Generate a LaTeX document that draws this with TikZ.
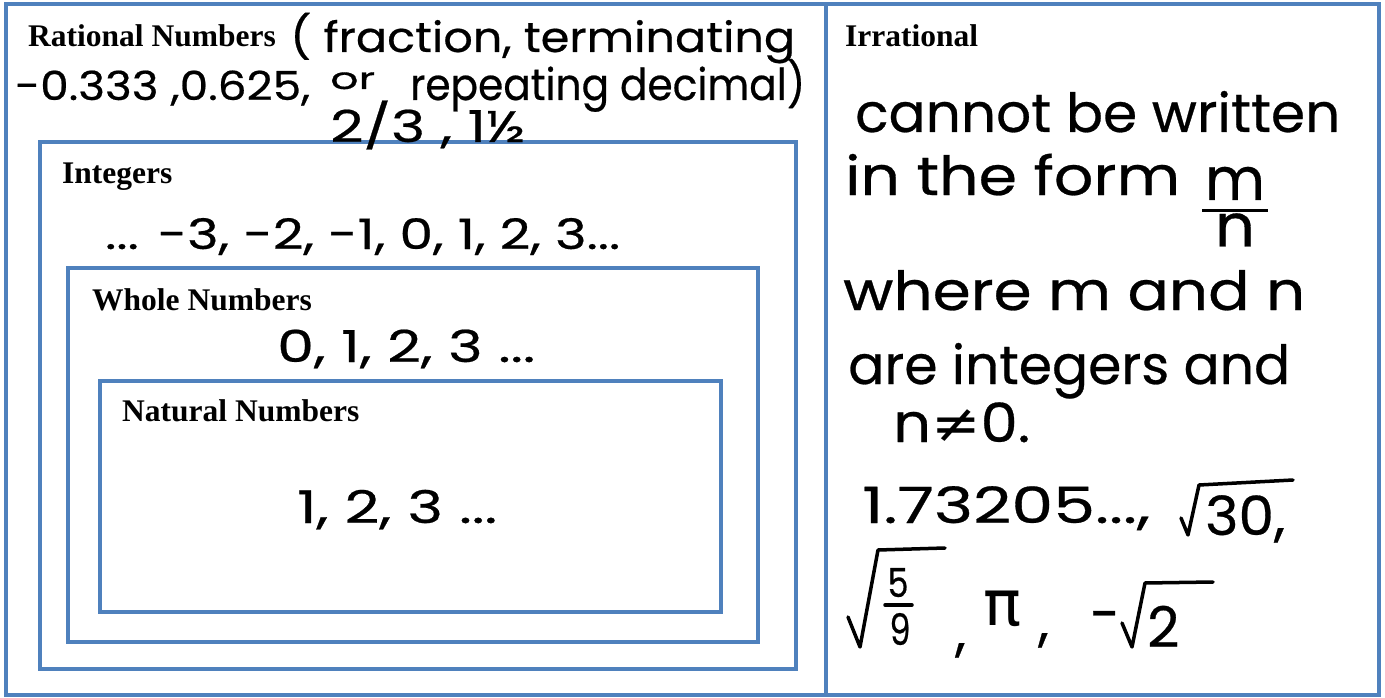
\documentclass[tikz,border=0pt]{standalone}
\usepackage{fontspec}
\setmainfont{Liberation Serif}
\newfontfamily\hand[FakeBold=0.5]{Poppins}
\newfontfamily\dvs{DejaVu Sans}
\definecolor{boxblue}{HTML}{4F81BD}
\newcommand{\hw}[3][1]{\resizebox{#2}{#1\height}{#3}}
\newcommand{\hs}[1]{\hand\fontsize{#1}{#1}\selectfont}
\begin{document}
\begin{tikzpicture}[x=1pt,y=-1pt,
  frame/.style={draw=boxblue,line width=4.5pt},
  lab/.style={font=\fontsize{31.5}{36}\selectfont\bfseries, anchor=base west, inner sep=0pt},
  hw/.style={anchor=base west, inner sep=0pt},
  pen/.style={line width=3.5pt, line cap=round, line join=round}]
\useasboundingbox (0,0) rectangle (1385,698);
% frames
\coordinate (oTL) at (6,4); \coordinate (oBR) at (1379,695);
\coordinate (dT) at (826,4); \coordinate (dB) at (826,695);
\draw[frame] (oTL) rectangle (oBR);
\draw[frame] (dT) -- (dB);
\draw[frame] (40,142) rectangle (796,669);
\draw[frame] (68,268) rectangle (758,642);
\draw[frame] (100,381) rectangle (721,612);
% labels
\node[lab] (rat) at (28,47) {Rational Numbers};
\node[lab] (int) at (62,184) {Integers};
\node[lab] (who) at (92,310) {Whole Numbers};
\node[lab] (nat) at (122,421) {Natural Numbers};
\node[lab] (irr) at (845,47) {Irrational};
% rational handwriting
\node[hw, font=\hs{40}] (r1) at (290,52) {\hw[1.05]{505pt}{( fraction, terminating}};
\node[hw, font=\hs{40}] (r2a) at (15,100) {\hw{295pt}{-0.333 ,0.625,}};
\node[hw, font=\hs{30}] (r2b) at (330,89) {\hw{45pt}{or}};
\node[hw, font=\hs{40}] (r2c) at (410,100) {\hw[1.1]{395pt}{repeating decimal)}};
\node[hw, font=\hs{40}] (r3) at (330,142) {\hw[1.1]{195pt}{2/3 , 1½}};
% integers / whole / natural
\node[hw, font=\hs{40}] (i1) at (105,249) {\hw[1.05]{515pt}{... -3, -2, -1, 0, 1, 2, 3...}};
\node[hw, font=\hs{42}] (w1) at (277,362) {\hw[1.05]{258pt}{0, 1, 2, 3 ...}};
\node[hw, font=\hs{45}] (n1) at (297,523) {\hw{200pt}{1, 2, 3 ...}};
% irrational handwriting
\node[hw, font=\hs{54}] (t1) at (855,132) {\hw{485pt}{cannot be written}};
\node[hw, font=\hs{54}] (t2) at (845,195) {\hw{335pt}{in the form}};
\node[hw, font=\hs{54}, anchor=base] (frac) at (1235,200)
  {\setlength{\arrayrulewidth}{3.5pt}\renewcommand{\arraystretch}{0}%
   \begin{tabular}[t]{@{\hspace{3pt}}c@{\hspace{3pt}}}
   \rule[-9pt]{0pt}{40pt}\hw[1.1]{60pt}{m}\\ \hline
   \rule[-4pt]{0pt}{38pt}\hw[1.1]{40pt}{n}
   \end{tabular}};
\node[hw, font=\hs{54}] (t3) at (843,310) {\hw{462pt}{where m and n}};
\node[hw, font=\hs{54}] (t4) at (848,384) {\hw{442pt}{are integers and}};
\node[hw, font=\hs{54}] (t5) at (893,442) {\hw{137pt}{n{\dvs ≠}0.}};
\node[hw, font=\hs{50}] (t6) at (862,523) {\hw{288pt}{1.73205...,}};
\coordinate (s1a) at (1181,518); \coordinate (s1b) at (1188,535);
\coordinate (s1c) at (1199,485); \coordinate (s1d) at (1293,480);
\draw[pen] (s1a) -- (s1b) -- (s1c) -- (s1d);
\node[hw, font=\hs{54}] (t7) at (1205,535) {\hw{80pt}{30,}};
% sqrt(5/9)
\coordinate (s2a) at (848,617); \coordinate (s2b) at (860,647);
\coordinate (s2c) at (878,550); \coordinate (s2d) at (945,548);
\draw[pen] (s2a) -- (s2b) -- (s2c) -- (s2d);
\node[hw, font=\hs{40}, anchor=base] (f5) at (898,597) {\resizebox{21pt}{29pt}{5}};
\node[hw, font=\hs{40}, anchor=base] (f9) at (900,645) {\resizebox{21pt}{32pt}{9}};
\coordinate (fb3) at (885,605); \coordinate (fb4) at (912,605);
\draw[pen] (fb3) -- (fb4);
\node[hw, font=\hs{54}] (c1) at (955,650) {,};
\node[hw] (pi) at (983,625) {\resizebox{38pt}{!}{\dvs π}};
\node[hw, font=\hs{54}] (c2) at (1038,640) {,};
\node[hw, font=\hs{54}] (mi) at (1090,633) {-};
\coordinate (s3a) at (1122,623); \coordinate (s3b) at (1132,647);
\coordinate (s3c) at (1145,583); \coordinate (s3d) at (1213,582);
\draw[pen] (s3a) -- (s3b) -- (s3c) -- (s3d);
\node[hw, font=\hs{56}] (t8) at (1147,647) {2};
\end{tikzpicture}
\end{document}
